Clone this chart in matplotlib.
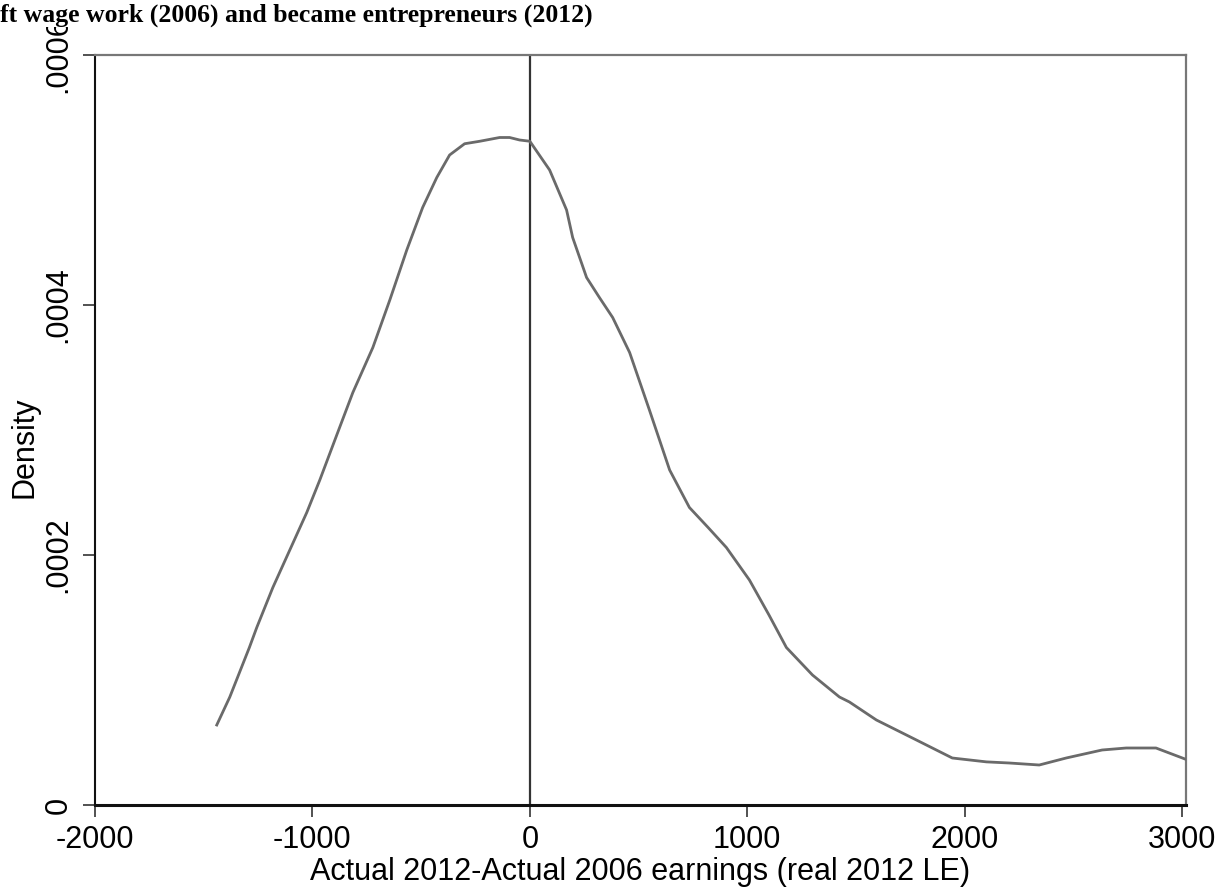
import matplotlib
matplotlib.use("Agg")
import matplotlib.pyplot as plt
from matplotlib.patches import Rectangle

# Data (kernel density of earnings change)
x_vals = [-1440, -1380, -1290, -1256, -1182, -1104, -1026, -966, -888, -814,
          -722, -644, -566, -493, -428, -369, -300, -230, -139, -93,
          -47, 0, 91, 169, 197, 261, 320, 381, 459, 550,
          643, 734, 820, 904, 1010, 1100, 1180, 1300, 1424, 1470,
          1594, 1778, 1943, 2100, 2205, 2343, 2467, 2632, 2743, 2880, 3018]
density = [0.000064, 0.0000864, 0.000126, 0.000142, 0.000174, 0.000204, 0.000234, 0.000260, 0.000296, 0.000330,
           0.000366, 0.000404, 0.000444, 0.000478, 0.000502, 0.000520, 0.000529, 0.000531, 0.000534, 0.000534,
           0.000532, 0.000531, 0.000508, 0.000476, 0.000454, 0.000422, 0.000406, 0.000390, 0.000362, 0.000316,
           0.000268, 0.000238, 0.000222, 0.000206, 0.000180, 0.000152, 0.000126, 0.000104, 0.0000864, 0.0000824,
           0.000068, 0.000052, 0.0000376, 0.0000345, 0.0000336, 0.000032, 0.0000376, 0.000044, 0.0000456, 0.0000456, 0.0000365]

x_ticks = [-2000, -1000, 0, 1000, 2000, 3000]
x_tick_labels = ["-2000", "-1000", "0", "1000", "2000", "3000"]
y_ticks = [0, 0.0002, 0.0004, 0.0006]
y_tick_labels = ["0", ".0002", ".0004", ".0006"]
x_label = "Actual 2012-Actual 2006 earnings (real 2012 LE)"
y_label = "Density"
title = "ft wage work (2006) and became entrepreneurs (2012)"

W, H = 1225, 892
fig = plt.figure(figsize=(W / 100, H / 100), dpi=100)
fig.patch.set_facecolor("white")
ax = fig.add_axes([95 / W, (H - 805) / H, (1186 - 95) / W, (805 - 55) / H])

ax.plot(x_vals, density, color="#6a6a6a", lw=2.0, solid_joinstyle="round", zorder=3)
ax.axvline(0, color="#333333", lw=1.6, zorder=2)

ax.set_xlim(-2000, 3018)
ax.set_ylim(0, 0.0006)

sans = ["Liberation Sans", "DejaVu Sans"]
ax.set_xticks(x_ticks)
ax.set_xticklabels(x_tick_labels, fontsize=22, family=sans)
ax.set_yticks(y_ticks)
ax.set_yticklabels(y_tick_labels, fontsize=22, family=sans, rotation=90, va="center")
ax.tick_params(axis="both", direction="out", length=8.5, width=1.2, color="#333333")
ax.tick_params(axis="x", pad=6)
ax.tick_params(axis="y", pad=7)

ax.set_xlabel(x_label, fontsize=22, family=sans)
ax.xaxis.set_label_coords((640 - 95) / (1186 - 95), -(872 - 805) / 750)
ax.xaxis.label.set_va("center")
ax.set_ylabel(y_label, fontsize=22, family=sans)
ax.yaxis.set_label_coords((25 - 95) / (1186 - 95), (805 - 447) / 750)
ax.yaxis.label.set_va("center")

ax.spines["left"].set_color("#111111")
ax.spines["left"].set_linewidth(1.5)
ax.spines["bottom"].set_color("#111111")
ax.spines["bottom"].set_linewidth(2.2)
for side in ["top", "right"]:
    ax.spines[side].set_color("#777777")
    ax.spines[side].set_linewidth(1.6)

# white band at top where the (cropped) title sits, hiding part of the top tick label
fig.patches.append(Rectangle((0, (H - 27) / H), 700 / W, 27 / H, transform=fig.transFigure,
                             facecolor="white", edgecolor="none", zorder=5))
fig.text(0 / W, (H - 22) / H, title, fontsize=18.5, fontweight="bold",
         family=["Liberation Serif", "DejaVu Serif"], ha="left", va="baseline", zorder=6)

fig.savefig("out.png", dpi=100, facecolor="white")
